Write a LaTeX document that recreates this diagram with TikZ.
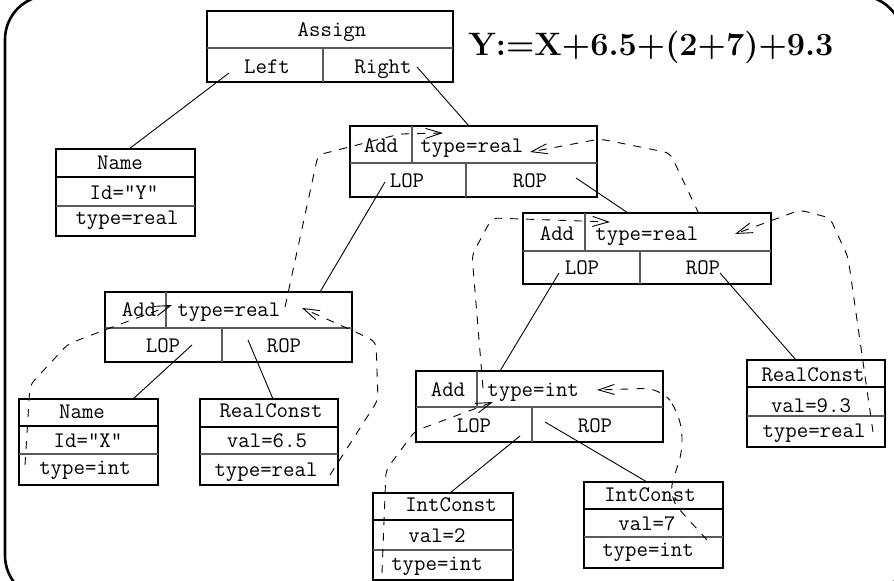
\documentclass[tikz,border=0pt]{standalone}
\usetikzlibrary{arrows.meta,fit}
\begin{document}
\begin{tikzpicture}[x=0.5pt,y=-0.5pt,
  box/.style={draw,line width=1.4pt,inner sep=0pt,fit={#1}},
  rowline/.style={line width=0.6pt,black!65},
  headline/.style={line width=1.2pt},
  txt/.style={font=\fontsize{11.1}{13}\selectfont\ttfamily,inner sep=0pt,anchor=base},
  txtw/.style={txt,anchor=base west},
  edge/.style={line width=0.45pt},
  flow/.style={line width=0.45pt,dash pattern=on 4pt off 4pt,rounded corners=3pt,-{Straight Barb[length=8pt,width=5pt]}},
  title/.style={font=\fontsize{16.2}{19}\selectfont\bfseries,inner sep=0pt,anchor=base west},
]
\useasboundingbox (0,0) rectangle (894,581);

% slide frame
\begin{scope}
  \clip (0,0) rectangle (894,581);
  \draw[line width=1.3pt,rounded corners=22pt] (5,-4.5) rectangle (903,599.5);
\end{scope}

% ---------- Assign ----------
\node[box={(207,11) (453,82)}] (assign) {};
\draw[rowline] (207,48) -- (453,48);
\draw[rowline] (323,48) -- (323,82);
\node[txt] (tAssign) at (332,37) {Assign};
\node[txt] (tLeft) at (267,74) {Left};
\node[txt] (tRight) at (383,74) {Right};

% ---------- Name Y ----------
\node[box={(56,149) (195,236)}] (nameY) {};
\draw[headline] (56,177) -- (195,177);
\draw[rowline] (56,206) -- (195,206);
\node[txt] (tNameY) at (120,170) {Name};
\node[txt] (tIdY) at (124,200) {Id="Y"};
\node[txt] (tTypeY) at (127,225) {type=real};

% ---------- Add (top) ----------
\node[box={(350,126) (597,197)}] (addA) {};
\draw[rowline] (350,163) -- (597,163);
\draw[rowline] (412,126) -- (412,163);
\draw[rowline] (466,163) -- (466,197);
\node[txt] (tAddA) at (381,153) {Add};
\node[txtw] (tTypeA) at (420,153) {type=real};
\node[txt] (tLopA) at (407,188) {LOP};
\node[txt] (tRopA) at (530,188) {ROP};

% ---------- Add (right) ----------
\node[box={(523,213) (771,284)}] (addB) {};
\draw[rowline] (523,251) -- (771,251);
\draw[rowline] (585,213) -- (585,251);
\draw[rowline] (640,251) -- (640,284);
\node[txt] (tAddB) at (557,241) {Add};
\node[txtw] (tTypeB) at (595,241) {type=real};
\node[txt] (tLopB) at (582,275) {LOP};
\node[txt] (tRopB) at (703,275) {ROP};

% ---------- Add (left) ----------
\node[box={(105,292) (352,362)}] (addC) {};
\draw[rowline] (105,328) -- (352,328);
\draw[rowline] (166,292) -- (166,328);
\draw[rowline] (222,328) -- (222,362);
\node[txt] (tAddC) at (139,317) {Add};
\node[txtw] (tTypeC) at (177,317) {type=real};
\node[txt] (tLopC) at (163,353) {LOP};
\node[txt] (tRopC) at (284,353) {ROP};

% ---------- Add (int) ----------
\node[box={(416,371) (663,442)}] (addD) {};
\draw[rowline] (416,407) -- (663,407);
\draw[rowline] (477,371) -- (477,407);
\draw[rowline] (532,407) -- (532,442);
\node[txt] (tAddD) at (448,397) {Add};
\node[txtw] (tTypeD) at (487,397) {type=int};
\node[txt] (tLopD) at (474,433) {LOP};
\node[txt] (tRopD) at (595,433) {ROP};

% ---------- Name X ----------
\node[box={(19,399) (158,485)}] (nameX) {};
\draw[headline] (19,426) -- (158,426);
\draw[rowline] (19,454) -- (158,454);
\node[txt] (tNameX) at (82,419) {Name};
\node[txt] (tIdX) at (88,448) {Id="X"};
\node[txt] (tTypeX) at (85,475) {type=int};

% ---------- RealConst 6.5 ----------
\node[box={(200,399) (338,485)}] (rcA) {};
\draw[headline] (200,427) -- (338,427);
\draw[rowline] (200,454) -- (338,454);
\node[txt] (tRcA) at (271,418) {RealConst};
\node[txt] (tValA) at (267,448) {val=6.5};
\node[txt] (tTypeRcA) at (266,477) {type=real};

% ---------- RealConst 9.3 ----------
\node[box={(747,360) (885,447)}] (rcB) {};
\draw[headline] (747,387) -- (885,387);
\draw[rowline] (747,416) -- (885,416);
\node[txt] (tRcB) at (813,382) {RealConst};
\node[txt] (tValB) at (811,413) {val=9.3};
\node[txt] (tTypeRcB) at (814,438) {type=real};

% ---------- IntConst 2 ----------
\node[box={(373,493) (513,580)}] (icA) {};
\draw[headline] (373,520) -- (513,520);
\draw[rowline] (373,550) -- (513,550);
\node[txt] (tIcA) at (451,512) {IntConst};
\node[txt] (tValIcA) at (437,543) {val=2};
\node[txt] (tTypeIcA) at (437,571) {type=int};

% ---------- IntConst 7 ----------
\node[box={(584,482) (723,568)}] (icB) {};
\draw[headline] (584,509) -- (723,509);
\draw[rowline] (584,537) -- (723,537);
\node[txt] (tIcB) at (650,502) {IntConst};
\node[txt] (tValIcB) at (647,531) {val=7};
\node[txt] (tTypeIcB) at (648,557) {type=int};

% ---------- tree edges ----------
\coordinate (pLeft) at (229,73);
\coordinate (pRight) at (417,67);
\coordinate (pLopA) at (385,182);
\coordinate (pRopA) at (576,178);
\coordinate (pLopB) at (559,273);
\coordinate (pRopB) at (720,273);
\coordinate (pLopC) at (192,345);
\coordinate (pRopC) at (248,340);
\coordinate (pLopD) at (520,436);
\coordinate (pRopD) at (545,422);
\coordinate (eNameY) at (129,149);
\coordinate (eAddA) at (469,126);
\coordinate (eAddC) at (320,292);
\coordinate (eAddB) at (628,213);
\coordinate (eNameX) at (133,399);
\coordinate (eRcA) at (273,399);
\coordinate (eAddD) at (500,371);
\coordinate (eRcB) at (796,360);
\coordinate (eIcA) at (450,493);
\coordinate (eIcB) at (647,482);

\draw[edge] (pLeft) -- (eNameY);
\draw[edge] (pRight) -- (eAddA);
\draw[edge] (pLopA) -- (eAddC);
\draw[edge] (pRopA) -- (eAddB);
\draw[edge] (pLopC) -- (eNameX);
\draw[edge] (pRopC) -- (eRcA);
\draw[edge] (pLopB) -- (eAddD);
\draw[edge] (pRopB) -- (eRcB);
\draw[edge] (pLopD) -- (eIcA);
\draw[edge] (pRopD) -- (eIcB);

% ---------- attribute flow ----------
% type of the left Add up to the top Add
\draw[flow] (285,307) -- (318,155) -- (400,134) -- (443,133);
% type of the right Add up to the top Add
\draw[flow] (699,214) -- (670,153) -- (600,139) -- (530,152);
% RealConst 9.3 up to the right Add
\draw[flow] (873,432) -- (848,257) -- (830,218) -- (800,210) -- (735,234);
% int Add up to the right Add
\draw[flow] (483,388) -- (472,255) -- (492,218) -- (610,222);
% IntConst 7 up to the int Add
\draw[flow,rounded corners=8pt] (707,540) -- (668,497) -- (684,445) -- (678,410) -- (660,388) -- (597,390);
% IntConst 2 up to the int Add
\draw[flow] (382,573) -- (386,470) -- (415,431) -- (493,402);
% Name X up to the left Add
\draw[flow] (25,465) -- (30,385) -- (68,344) -- (110,328) -- (172,305);
% RealConst 6.5 up to the left Add
\draw[flow] (330,475) -- (378,400) -- (376,342) -- (360,334) -- (302,308);

% ---------- expression ----------
\node[title] (exprText) at (468,56) {Y:=X+6.5+(2+7)+9.3};
\end{tikzpicture}
\end{document}
